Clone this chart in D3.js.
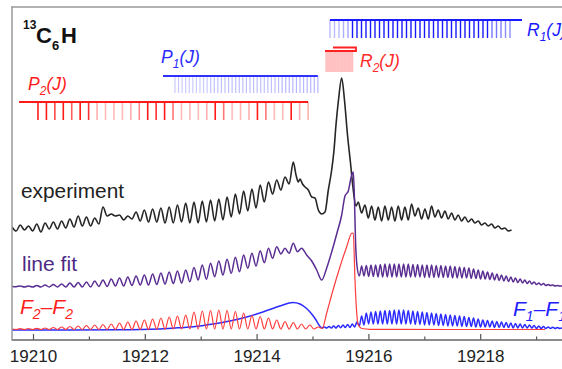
<!DOCTYPE html>
<html><head><meta charset="utf-8">
<script src="https://cdn.jsdelivr.net/npm/d3@7"></script>
<style>
html,body{margin:0;padding:0;background:#fff;}
svg{display:block;font-family:"Liberation Sans",Arial,sans-serif;}
</style></head><body>
<svg id="c" width="562" height="369"></svg>
<script>
// ---------- DATA (wavenumber in cm^-1, intensity in arbitrary units incl. stacking offset) ----------
const xTicksMajor = [19210, 19212, 19214, 19216, 19218];
const xTicksMinor = [19211, 19213, 19215, 19217, 19219];

// experiment
const expLeftStart = 19209.624, expLeftStep = 0.074;
const expLeftVals = [113,109,115,110,114,109,116,108,117,111,118,111,119,112,121,113,124,114,123,114,
  122,116,133,124,126,124,125,120,124,121,128,119,130,118,131,118,132,117,133,117,
  135,118,137,117,138,117,139,118,140,119,141,120,143,123,146,126,149,129,151,132,
  155,138,158,146,160,150,163,156,178];
const expMid = [[19214.705,165],[19214.746,158],[19214.776,161],[19214.821,156],[19214.866,153],[19214.925,150],
  [19214.986,143],[19215.045,142],[19215.104,130],[19215.165,126],[19215.224,128],[19215.283,150],[19215.343,170],
  [19215.385,190],[19215.420,215],[19215.465,240],[19215.522,262],[19215.572,240],[19215.626,205],[19215.680,177],
  [19215.725,152],[19215.778,134]];
const expRightStart = 19215.819, expRightStep = 0.0596;
const expRightVals = [138,127,135,122,134,120,133,119,134,120,133,119,134,120,133,120,136,124,132,121,
  131,121,134,123,130,122,129,121,127,120,125,119,123,118,121,117,119,115,117,114,116,112,114,111,112,109,110];

// line fit
const fitLeftStart = 19209.624, fitLeftStep = 0.074;
const fitLeftVals = [53.5,53.3,54,53,54,53,54.5,53,55,53,55.5,53,56,53,57,53,57.5,53,58,53,
  59,53.5,60,53.5,61,54,62,54,63,54.5,64,55,65,55,66,55.5,67,56,68,56.5,
  69,57,70,58.3,72.5,60,75,60.7,76.7,63.3,79,65,80.7,66.7,82.7,68.3,85,71.7,86.7,74,
  89.3,77.3,91.7,81.7,93.3,86,91.7,86.7,96.7,88.3,91.7];
const fitMid = [[19214.896,85],[19214.986,79],[19215.075,70],[19215.165,60],[19215.254,72],[19215.343,88],
  [19215.433,106],[19215.522,125],[19215.581,144],[19215.640,149],[19215.701,165],[19215.730,168],
  [19215.751,140],[19215.769,100]];
const fitRightStart = 19215.796, fitRightStep = 0.0417;
const fitRightVals = [74,64,74,64,74.5,63.5,75,63.5,75,63,75.5,63,76,63,76,63,76,63,76,63,
  76,63,76,63,75.5,63,75.5,63,75,62.5,75,62.5,75,62.5,74.5,62.5,74.5,62.5,74,62.5,
  74,62,73.5,62,73,62,72.5,62,72,61.5,71,61.5,70,61,69,61,68,60.5,67,60,
  66,59.5,65,59,64,58.5,63,58,62,57.5,61,57,60,56.5,59,56,58,55.5,57,55,
  56.5,54.5,55.5,54.5,55,54,54.5,54,54];

// F2-F2 component
const f2LeftStart = 19209.624, f2LeftStep = 0.074;
const f2LeftVals = [11,10.5,11.3,10.5,11.5,10.5,11.7,10.5,12,10.5,12.5,10.5,13,10.5,13.5,10.5,14,10.5,14.5,10.5,
  15,10.5,15.5,10.5,16,10.5,17,10.5,18,10.5,19,10.5,20,10.5,21,10.7,22,10.7,23,11,
  24,11,25,11,28,11,29,11,29.5,11,30,11,29.5,11,28.5,11,27,11,24.5,11,
  23.5,11,22,11,20,11,18.5,11,17.5,11,16,11,15,11,13,11.5];
const f2Mid = [[19215.254,27],[19215.367,50],[19215.492,73.3],[19215.612,93.3],[19215.701,106.7],[19215.730,107],
  [19215.760,60],[19215.791,27],[19215.819,15],[19215.886,11.5],[19216.029,10.7],[19217.460,10.5],[19219.159,10.5]];

// F1-F1 component
const f1Hump = [[19209.624,10],[19211.556,10.2],[19212.272,11],[19212.630,12.3],[19212.987,14],[19213.220,16],
  [19213.524,19],[19213.823,23],[19214.114,28],[19214.419,34],[19214.651,37.5],[19214.776,36],[19214.884,32],
  [19214.986,26],[19215.063,20],[19215.116,15]];
const f1RightStart = 19215.170, f1RightStep = 0.0417;
const f1RightVals = [12,13,12,13.5,12,14,12,14.5,12.2,15,12.5,15.5,12.5,16,13,18,14,24,15,27,
  16,28,16,28.5,16,29,16,29.5,16,29.5,16,30,16,30,16,30,16,29.5,16,29,
  15.5,28.5,15.5,28,15,27.5,15,27,15,26.5,14.5,26,14.5,25.5,14,25,14,24.5,14,24,
  13.5,23.5,13.5,22.5,13.5,22,13,21,13,20,13,19.5,13,19,12.5,18.5,12.5,18,12.5,17.5,
  12.5,17,12,16.5,12,16,12,15.5,12,15,12,14.5,11.5,14,11.5,13.5,11.5,13,11.5,12.8,
  11.5,12.5,11.5,12];

// stick assignments (line positions and relative strengths)
const p2Start = 19210.089, p2Step = 0.151, p2LineFrom = 19209.75;
const p2Int = [1,1,0.8,1,0.7,1,0.9,0.35,0.3,0.3,0.3,0.35,0.5,1,0.9,1,0.6,0.3,0.3,0.3,
  0.35,1,0.6,0.3,0.3,0.35,1,0.6,0.3,0.3,1,0.35,0.35];
const p1Start = 19212.540, p1Step = 0.0639, p1LineFrom = 19212.326;
const p1Int = [0.25,0.25,0.25,0.25,0.25,0.25,0.25,0.25,0.25,0.25,0.3,0.3,0.3,0.3,0.3,0.3,0.3,0.3,0.3,0.3,
  0.3,0.3,0.3,0.3,0.3,0.3,0.3,0.3,0.3,0.3,0.35,0.35,0.35,0.35,0.35,0.35,0.35,0.35,0.35,0.35,0.35];
const r1Start = 19215.313, r1Step = 0.0805, r1LineTo = 19218.748;
const r1Int = [0.3,0.3,0.3,0.35,0.4,1,1,1,1,1,1,1,1,1,1,1,1,1,1,1,1,1,1,1,1,1,1,1,1,1,1,1,1,1,1,1,
  0.6,0.6,0.55,0.5,0.5];
const r2Start = 19215.242, r2Step = 0.025, r2LineFrom = 19215.224, r2LineTo = 19215.778, r2HeadFrom = 19215.367;
const r2Int = [0.3,0.3,0.3,0.3,0.3,0.3,0.3,0.3,0.3,0.3,0.3,0.3,0.3,0.3,0.3,0.3,0.3,0.3,0.3,0.3];

// ---------- DRAWING ----------
const svg = d3.select("#c");
const x = d3.scaleLinear().domain([19210, 19218]).range([33, 480.2]);
const y = d3.scaleLinear().domain([0, 333]).range([340, 7]);

const expand = (s, st, vals) => vals.map((v, i) => [s + i * st, v]);
const expData = [...expand(expLeftStart, expLeftStep, expLeftVals), ...expMid, ...expand(expRightStart, expRightStep, expRightVals)];
const fitData = [...expand(fitLeftStart, fitLeftStep, fitLeftVals), ...fitMid, ...expand(fitRightStart, fitRightStep, fitRightVals)];
const f2Data = [...expand(f2LeftStart, f2LeftStep, f2LeftVals), ...f2Mid];
const f1Data = [...f1Hump, ...expand(f1RightStart, f1RightStep, f1RightVals)];

svg.append("defs").append("clipPath").attr("id", "pa").append("rect")
  .attr("x", 12).attr("y", 7).attr("width", 560).attr("height", 333);

const line = d3.line().x(d => x(d[0])).y(d => y(d[1])).curve(d3.curveMonotoneX);
const g = svg.append("g").attr("clip-path", "url(#pa)");
g.append("path").attr("d", line(expData)).attr("fill", "none").attr("stroke", "#262626").attr("stroke-width", 1.6);
g.append("path").attr("d", line(fitData)).attr("fill", "none").attr("stroke", "#5a2d92").attr("stroke-width", 1.5);
g.append("path").attr("d", line(f1Data)).attr("fill", "none").attr("stroke", "#2b2bff").attr("stroke-width", 1.5);
g.append("path").attr("d", line(f2Data)).attr("fill", "none").attr("stroke", "#ff3c3c").attr("stroke-width", 1.2);

// sticks
function sticks(start, step, ints, y0, y1, color, w) {
  const pos = ints.map((v, i) => ({ v: start + i * step, a: v }));
  svg.append("g").selectAll("line").data(pos).join("line")
    .attr("x1", d => x(d.v)).attr("x2", d => x(d.v)).attr("y1", y0).attr("y2", y1)
    .attr("stroke", color).attr("stroke-opacity", d => d.a).attr("stroke-width", w);
  return pos;
}
const p2 = sticks(p2Start, p2Step, p2Int, 102, 120, "#ff1a1a", 1.6);
svg.append("line").attr("x1", x(p2LineFrom)).attr("x2", x(p2[p2.length - 1].v)).attr("y1", 102).attr("y2", 102)
  .attr("stroke", "#ff1a1a").attr("stroke-width", 2);
const p1 = sticks(p1Start, p1Step, p1Int, 76, 93, "#3030ff", 1.2);
svg.append("line").attr("x1", x(p1LineFrom)).attr("x2", x(p1[p1.length - 1].v)).attr("y1", 76).attr("y2", 76)
  .attr("stroke", "#3030ff").attr("stroke-width", 2);
sticks(r1Start, r1Step, r1Int, 20, 38, "#1a1aff", 1.4);
svg.append("line").attr("x1", x(r1Start)).attr("x2", x(r1LineTo)).attr("y1", 20).attr("y2", 20)
  .attr("stroke", "#1a1aff").attr("stroke-width", 2);
sticks(r2Start, r2Step, r2Int, 51, 72, "#ff3030", 1.4);
svg.append("path")
  .attr("d", `M${x(r2LineFrom)},51 H${x(r2LineTo)} V47.5 H${x(r2HeadFrom)}`)
  .attr("fill", "none").attr("stroke", "#ff2020").attr("stroke-width", 1.8);

// axes / frame
const axG = svg.append("g").attr("transform", "translate(0,340)");
axG.call(d3.axisBottom(x).tickValues(xTicksMajor).tickFormat(d3.format("d")).tickSizeInner(-6).tickSizeOuter(0));
axG.select(".domain").remove();
axG.selectAll(".tick line").attr("stroke", "#555").attr("stroke-width", 1.2);
axG.selectAll(".tick text").attr("y", 10).attr("dy", "0.71em").attr("font-size", 17)
  .attr("font-family", "Liberation Sans, Arial, sans-serif").attr("fill", "#222");
const axM = svg.append("g").attr("transform", "translate(0,340)");
axM.call(d3.axisBottom(x).tickValues(xTicksMinor).tickFormat("").tickSizeInner(-3.5).tickSizeOuter(0));
axM.select(".domain").remove();
axM.selectAll(".tick line").attr("stroke", "#555").attr("stroke-width", 1.2);

svg.append("line").attr("x1", 12).attr("x2", 562).attr("y1", 340).attr("y2", 340).attr("stroke", "#666").attr("stroke-width", 1.5);
svg.append("line").attr("x1", 12).attr("x2", 12).attr("y1", 6.5).attr("y2", 340.7).attr("stroke", "#999").attr("stroke-width", 1.5);
svg.append("line").attr("x1", 11.3).attr("x2", 562).attr("y1", 7).attr("y2", 7).attr("stroke", "#999").attr("stroke-width", 1.5);

// texts
const t = svg.append("text").attr("font-weight", "bold").attr("fill", "#111");
t.append("tspan").attr("x", 23).attr("y", 29).attr("font-size", 12).text("13");
t.append("tspan").attr("x", 36).attr("y", 43).attr("font-size", 22).text("C");
t.append("tspan").attr("x", 52).attr("y", 50).attr("font-size", 13).text("6");
t.append("tspan").attr("x", 61).attr("y", 43).attr("font-size", 22).text("H");

function branchLabel(xx, yy, letter, sub, tail, color) {
  const tx = svg.append("text").attr("x", xx).attr("y", yy).attr("font-style", "italic").attr("font-size", 17.5).attr("fill", color);
  tx.append("tspan").text(letter);
  tx.append("tspan").attr("font-size", 12).attr("dy", 5).text(sub);
  tx.append("tspan").attr("font-size", 17.5).attr("dy", -5).text(tail);
}
branchLabel(28, 90, "P", "2", "(J)", "#ff1a1a");
branchLabel(161, 63, "P", "1", "(J)", "#2a2aff");
branchLabel(360, 67, "R", "2", "(J)", "#ff2a2a");
branchLabel(527, 36, "R", "1", "(J)", "#1a1aff");

svg.append("text").attr("x", 21).attr("y", 198).attr("font-size", 20).attr("fill", "#222")
  .attr("textLength", 103).attr("lengthAdjust", "spacingAndGlyphs").text("experiment");
svg.append("text").attr("x", 22).attr("y", 271).attr("font-size", 20).attr("fill", "#4e2a86")
  .attr("textLength", 55).attr("lengthAdjust", "spacingAndGlyphs").text("line fit");

function compLabel(xx, yy, a, b, color) {
  const tx = svg.append("text").attr("x", xx).attr("y", yy).attr("font-style", "italic").attr("font-size", 21).attr("fill", color);
  tx.append("tspan").text("F");
  tx.append("tspan").attr("font-size", 14).attr("dy", 5).text(a);
  tx.append("tspan").attr("font-size", 21).attr("dy", -5).text("\u2013F");
  tx.append("tspan").attr("font-size", 14).attr("dy", 5).text(b);
}
compLabel(20, 314, "2", "2", "#ff2020");
compLabel(513, 316, "1", "1", "#2020ff");
</script>
</body></html>
